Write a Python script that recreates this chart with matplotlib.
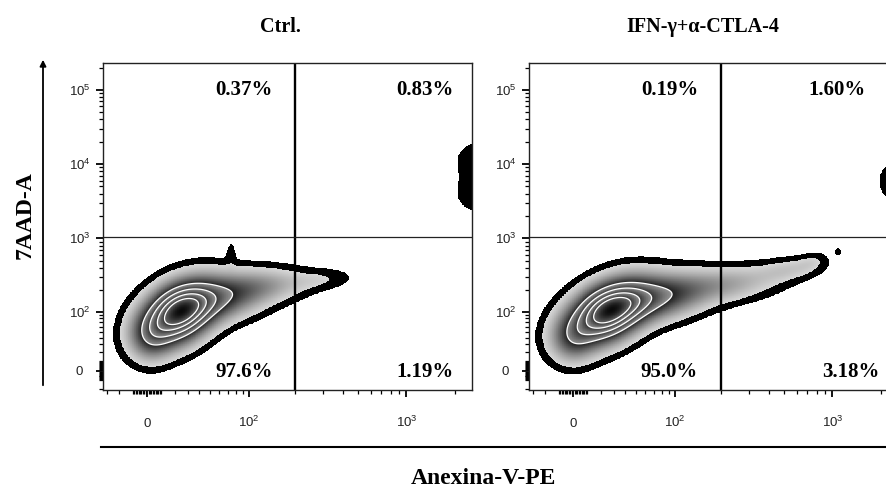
import matplotlib
matplotlib.use("Agg")
import matplotlib.pyplot as plt
import numpy as np
from matplotlib.ticker import FixedLocator, FixedFormatter, NullFormatter
from matplotlib.lines import Line2D
from matplotlib.patches import FancyArrowPatch

plt.rcParams["font.family"] = ["Liberation Serif", "DejaVu Serif"]

# biexponential-like display widths (linear region around 0)
X_WIDTH = 49
Y_WIDTH = 33
X_LIM = (-33, 2560)
Y_LIM = (-21, 2.3e5)

panel_titles = ["Ctrl.", "IFN-γ+α-CTLA-4"]
# quadrant percentages: upper-left, upper-right, lower-left, lower-right
ctrl_pct = ["0.37%", "0.83%", "97.6%", "1.19%"]
ifn_pct = ["0.19%", "1.60%", "95.0%", "3.18%"]
gate_x = [200, 200]
gate_y = [1050, 1050]

# populations: centre (fluorescence units),
# spread (display units), tilt and relative weight of each component
ctrl_cx = [22.5, 61, 134, 297, 2, 74, 2790, 2790]
ctrl_cy = [94, 157, 230, 278, 40, 640, 11500, 3890]
ctrl_su = [0.33, 0.43, 0.40, 0.29, 0.19, 0.05, 0.25, 0.25]
ctrl_sv = [0.62, 0.47, 0.34, 0.22, 0.47, 0.30, 0.45, 0.45]
ctrl_rho = [0.35, 0.30, 0.20, 0.20, 0.0, 0.0, 0.0, 0.0]
ctrl_w = [1.0, 0.35, 0.12, 0.05, 0.20, 0.03, 0.042, 0.042]

ifn_cx = [24.8, 72, 213, 545, 748, -0.7, 1085, 2634]
ifn_cy = [97, 157, 237, 380, 486, 37, 664, 5840]
ifn_su = [0.36, 0.46, 0.50, 0.31, 0.14, 0.20, 0.04, 0.25]
ifn_sv = [0.62, 0.47, 0.37, 0.25, 0.19, 0.47, 0.10, 0.55]
ifn_rho = [0.4, 0.3, 0.3, 0.3, 0.3, 0.0, 0.0, 0.0]
ifn_w = [1.0, 0.40, 0.15, 0.08, 0.04, 0.20, 0.035, 0.045]

x_major = [0, 100, 1000]
x_major_labels = ["0", r"$\mathregular{10^2}$", r"$\mathregular{10^3}$"]
y_major = [0, 100, 1000, 10000, 100000]
y_major_labels = ["0", r"$\mathregular{10^2}$", r"$\mathregular{10^3}$",
                  r"$\mathregular{10^4}$", r"$\mathregular{10^5}$"]

# zebra levels (fraction of peak density)
T0, T1 = 0.02, 0.052
ZEBRA = [0.38, 0.55, 0.70, 0.83]


def minor_ticks(top):
    ticks = [-30, -20] + list(range(-10, 11)) + list(range(20, 100, 10))
    dec = 100
    while dec < top:
        ticks += [k * dec for k in range(2, 10)]
        dec *= 10
    return ticks


def density(cx, cy, su, sv, rho, w, U, V):
    D = np.zeros_like(U)
    for i in range(len(cx)):
        du = (U - np.arcsinh(cx[i] / X_WIDTH)) / su[i]
        dv = (V - np.arcsinh(cy[i] / Y_WIDTH)) / sv[i]
        q = (du**2 - 2 * rho[i] * du * dv + dv**2) / (1 - rho[i]**2)
        D += w[i] * np.exp(-q / 2)
    return D / D.max()


def zebra_shade(D):
    g = np.full(D.shape, np.nan)
    g[(D >= T0) & (D < T1)] = 0.0
    m = (D >= T1) & (D < ZEBRA[0])
    f = (D[m] - T1) / (ZEBRA[0] - T1)
    g[m] = 0.84 - 0.72 * f
    bounds = ZEBRA + [1.0001]
    for k, (lo, hi) in enumerate(zip(bounds[:-1], bounds[1:])):
        m = (D >= lo) & (D < hi)
        f = (D[m] - lo) / (hi - lo)
        if k == len(ZEBRA) - 1:
            g[m] = 0.42 - 0.38 * f
        else:
            g[m] = 0.58 - 0.38 * f
    return np.ma.masked_invalid(g)


def draw_panel(ax, comps, gx, gy):
    ue = np.linspace(-0.75, 5.4, 651)
    ve = np.linspace(-0.75, 7.8, 701)
    uc = 0.5 * (ue[1:] + ue[:-1])
    vc = 0.5 * (ve[1:] + ve[:-1])
    Uc, Vc = np.meshgrid(uc, vc)
    D = density(*comps, Uc, Vc)
    Xe, Ye = np.meshgrid(X_WIDTH * np.sinh(ue), Y_WIDTH * np.sinh(ve))
    ax.pcolormesh(Xe, Ye, zebra_shade(D), cmap="gray", vmin=0, vmax=1,
                  shading="flat", rasterized=True)
    ax.contour(X_WIDTH * np.sinh(Uc), Y_WIDTH * np.sinh(Vc), D,
               levels=ZEBRA, colors="white", linewidths=0.9)

    ax.axvline(gx, color="black", lw=1.7)
    ax.axhline(gy, color="#222222", lw=0.9)

    ax.set_xscale("asinh", linear_width=X_WIDTH)
    ax.set_yscale("asinh", linear_width=Y_WIDTH)
    ax.set_xlim(*X_LIM)
    ax.set_ylim(*Y_LIM)

    ax.xaxis.set_major_locator(FixedLocator(x_major))
    ax.xaxis.set_major_formatter(FixedFormatter(x_major_labels))
    ax.xaxis.set_minor_locator(FixedLocator(minor_ticks(X_LIM[1])))
    ax.xaxis.set_minor_formatter(NullFormatter())
    ax.yaxis.set_major_locator(FixedLocator(y_major))
    ax.yaxis.set_major_formatter(FixedFormatter(y_major_labels))
    ax.yaxis.set_minor_locator(FixedLocator(minor_ticks(Y_LIM[1])))
    ax.yaxis.set_minor_formatter(NullFormatter())

    ax.tick_params(which="major", direction="out", length=5, width=1.3,
                   labelsize=9.5, labelcolor="#222222", top=False, right=False)
    ax.tick_params(which="minor", direction="out", length=2.8, width=0.9,
                   top=False, right=False)
    ax.tick_params(axis="x", which="major", pad=21.5)
    ax.tick_params(axis="y", which="major", pad=12)
    for lbl in ax.get_xticklabels():
        lbl.set_fontfamily("Liberation Sans")
        lbl.set_verticalalignment("baseline")
    for lbl in ax.get_yticklabels():
        lbl.set_fontfamily("Liberation Sans")
        lbl.set_horizontalalignment("center")
    for sp in ax.spines.values():
        sp.set_linewidth(1.0)
        sp.set_color("#222222")


def put_pct(ax, pct, right_x):
    pos = [(pct[0], right_x[0], 0.917), (pct[1], right_x[1], 0.917),
           (pct[2], right_x[2], 0.055), (pct[3], right_x[3], 0.055)]
    for txt, xf, yf in pos:
        ax.text(xf, yf, txt, transform=ax.transAxes, ha="right", va="center",
                fontsize=15, fontweight="bold")


fig = plt.figure(figsize=(8.87, 4.91), dpi=100)
W, H = 887.0, 491.0
ax1 = fig.add_axes([103 / W, 101 / H, 369 / W, 327 / H])
ax2 = fig.add_axes([529 / W, 101 / H, 369 / W, 327 / H])

draw_panel(ax1, (ctrl_cx, ctrl_cy, ctrl_su, ctrl_sv, ctrl_rho, ctrl_w),
           gate_x[0], gate_y[0])
draw_panel(ax2, (ifn_cx, ifn_cy, ifn_su, ifn_sv, ifn_rho, ifn_w),
           gate_x[1], gate_y[1])
put_pct(ax1, ctrl_pct, [0.461, 0.949, 0.461, 0.949])
put_pct(ax2, ifn_pct, [0.458, 0.913, 0.458, 0.949])

fig.text(280 / W, 1 - 27 / H, panel_titles[0], ha="center", va="center",
         fontsize=14.5, fontweight="bold")
fig.text(703 / W, 1 - 27 / H, panel_titles[1], ha="center", va="center",
         fontsize=14.5, fontweight="bold")
fig.text(25 / W, 1 - 215 / H, "7AAD-A", rotation=90, ha="center",
         va="center", fontsize=17, fontweight="bold")
fig.text(483 / W, 1 - 479 / H, "Anexina-V-PE", ha="center", va="center",
         fontsize=17, fontweight="bold")

# axis arrows
fig.add_artist(FancyArrowPatch((43 / W, 1 - 388 / H), (43 / W, 1 - 57 / H),
                               transform=fig.transFigure, arrowstyle="-|>",
                               mutation_scale=9, lw=1.3, color="black"))
fig.add_artist(Line2D([101 / W, 1.0], [1 - 447 / H, 1 - 447 / H],
                      transform=fig.transFigure, lw=1.5, color="black"))

fig.savefig("out.png", dpi=100)
